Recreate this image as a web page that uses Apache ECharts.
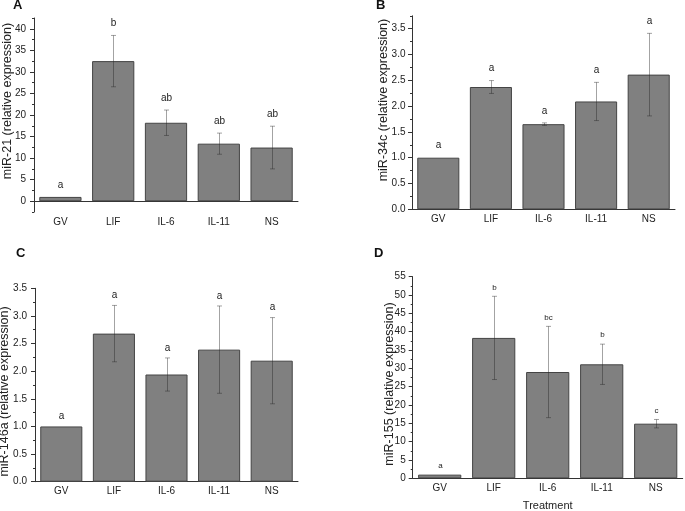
<!DOCTYPE html>
<html>
<head>
<meta charset="utf-8">
<script src="https://cdn.jsdelivr.net/npm/echarts@6/dist/echarts.min.js"></script>
<style>
html,body{margin:0;padding:0;background:#fff;}
#c{width:685px;height:511px;}
</style>
</head>
<body>
<div id="c"></div>
<script>
// ---- data ----
const categories = ['GV', 'LIF', 'IL-6', 'IL-11', 'NS'];

const mir21 = [1.0, 32.5, 18.2, 13.35, 12.45];
const mir21Sd = [0, 5.95, 2.95, 2.45, 4.95];
const mir21Sig = ['a', 'b', 'ab', 'ab', 'ab'];

const mir34c = [1.0, 2.37, 1.65, 2.09, 2.61];
const mir34cSd = [0, 0.125, 0.025, 0.37, 0.80];
const mir34cSig = ['a', 'a', 'a', 'a', 'a'];

const mir146a = [1.0, 2.68, 1.94, 2.39, 2.19];
const mir146aSd = [0, 0.51, 0.30, 0.79, 0.78];
const mir146aSig = ['a', 'a', 'a', 'a', 'a'];

const mir155 = [1.0, 38.3, 29.0, 31.1, 14.9];
const mir155Sd = [0, 11.35, 12.45, 5.5, 1.15];
const mir155Sig = ['a', 'b', 'bc', 'b', 'c'];

const ticksA = [0, 5, 10, 15, 20, 25, 30, 35, 40];
const minorA = [-2.5, 2.5, 7.5, 12.5, 17.5, 22.5, 27.5, 32.5, 37.5, 42.5];
const ticksB = [0, 0.5, 1.0, 1.5, 2.0, 2.5, 3.0, 3.5];
const minorB = [0.25, 0.75, 1.25, 1.75, 2.25, 2.75, 3.25, 3.75];
const ticksC = [0, 0.5, 1.0, 1.5, 2.0, 2.5, 3.0, 3.5];
const minorC = [0.25, 0.75, 1.25, 1.75, 2.25, 2.75, 3.25];
const ticksD = [0, 5, 10, 15, 20, 25, 30, 35, 40, 45, 50, 55];
const minorD = [2.5, 7.5, 12.5, 17.5, 22.5, 27.5, 32.5, 37.5, 42.5, 47.5, 52.5];

// ---- layout ----
const FONT = 'Liberation Sans, Arial, sans-serif';
const panels = [
  {letter: 'A', lx: 13, ly: 6, vals: mir21, sd: mir21Sd, sig: mir21Sig, ticks: ticksA, minor: minorA,
   min: -2.5, max: 42.5, dec: 0, name: 'miR-21 (relative expression)', lm: 8,
   grid: {left: 34, top: 18, width: 264, height: 194}, nameGap: 20, namePad: [0, 0, 0, 28], sigGap: 7, sigSize: 10},
  {letter: 'B', lx: 376, ly: 6, vals: mir34c, sd: mir34cSd, sig: mir34cSig, ticks: ticksB, minor: minorB,
   min: 0, max: 3.75, dec: 1, name: 'miR-34c (relative expression)', lm: 6.5,
   grid: {left: 412, top: 15.8, width: 263, height: 193.5}, nameGap: 21.5, namePad: [0, 0, 0, 25], sigGap: 7, sigSize: 10},
  {letter: 'C', lx: 16, ly: 254, vals: mir146a, sd: mir146aSd, sig: mir146aSig, ticks: ticksC, minor: minorC,
   min: 0, max: 3.5, dec: 1, name: 'miR-146a (relative expression)', lm: 8,
   grid: {left: 35, top: 288.3, width: 263, height: 193.4}, nameGap: 24.3, namePad: [0, 13, 0, 0], sigGap: 5, sigSize: 10},
  {letter: 'D', lx: 374, ly: 254, vals: mir155, sd: mir155Sd, sig: mir155Sig, ticks: ticksD, minor: minorD,
   min: 0, max: 55, dec: 0, name: 'miR-155 (relative expression)', lm: 7,
   grid: {left: 412.7, top: 276.7, width: 270, height: 201.6}, nameGap: 16.2, namePad: [0, 13, 0, 0], sigGap: 5, sigSize: 8,
   xName: 'Treatment'}
];

const grids = [], xAxes = [], yAxes = [], series = [], graphics = [];
const axisColor = '#333';
panels.forEach((p, i) => {
  grids.push(Object.assign({containLabel: false, outerBoundsMode: 'none'}, p.grid));
  xAxes.push({
    type: 'category', gridIndex: i, data: categories,
    axisLine: {lineStyle: {color: axisColor, width: 1}},
    axisTick: {alignWithLabel: true, length: 3, lineStyle: {color: axisColor}},
    axisLabel: {fontSize: 10, color: '#222', fontFamily: FONT, margin: 5},
    name: p.xName || '', nameLocation: 'middle', nameGap: 22, nameMoveOverlap: false,
    nameTextStyle: {fontSize: 11, color: '#222', fontFamily: FONT}
  });
  yAxes.push({
    type: 'value', gridIndex: i, min: p.min, max: p.max,
    axisLine: {show: true, lineStyle: {color: axisColor, width: 1}},
    axisTick: {show: true, length: 4, customValues: p.ticks, lineStyle: {color: axisColor}},
    axisLabel: {customValues: p.ticks, fontSize: 10, color: '#222', fontFamily: FONT, margin: p.lm,
      formatter: v => Number(v).toFixed(p.dec)},
    splitLine: {show: false},
    name: p.name, nameLocation: 'middle', nameRotate: 90, nameGap: p.nameGap, nameMoveOverlap: false,
    nameTextStyle: {fontSize: 12.5, color: '#222', fontFamily: FONT, padding: p.namePad}
  });
  yAxes.push({
    type: 'value', gridIndex: i, min: p.min, max: p.max, position: 'left',
    axisLine: {show: false},
    axisTick: {show: true, length: 2, customValues: p.minor, lineStyle: {color: axisColor}},
    axisLabel: {show: false},
    splitLine: {show: false}
  });
  series.push({
    type: 'bar', xAxisIndex: i, yAxisIndex: 2 * i, data: p.vals, barWidth: '80%',
    itemStyle: {color: '#808080', borderColor: '#444', borderWidth: 1},
    silent: true, animation: false
  });
  series.push({
    type: 'custom', xAxisIndex: i, yAxisIndex: 2 * i,
    data: p.vals.map((v, k) => [k, v]),
    encode: {x: 0, y: 1},
    animation: false, silent: true, z: 5,
    renderItem: (params, api) => {
      const k = params.dataIndex;
      const m = p.vals[k], s = p.sd[k];
      const top = api.coord([k, m + s]);
      const bot = api.coord([k, m - s]);
      const x = Math.round(top[0]) + 0.5;
      const children = [];
      const st = {stroke: 'rgba(35,35,35,0.42)', lineWidth: 1};
      if (s > 0) {
        children.push({type: 'line', shape: {x1: x, y1: top[1], x2: x, y2: bot[1]}, style: st});
        children.push({type: 'line', shape: {x1: x - 2.5, y1: top[1], x2: x + 2.5, y2: top[1]}, style: st});
        children.push({type: 'line', shape: {x1: x - 2.5, y1: bot[1], x2: x + 2.5, y2: bot[1]}, style: st});
      }
      children.push({type: 'text', x: x, y: top[1] - p.sigGap,
        style: {text: p.sig[k], align: 'center', verticalAlign: 'bottom', fontSize: p.sigSize,
          fontFamily: FONT, fill: '#222'}});
      return {type: 'group', children};
    }
  });
  graphics.push({type: 'text', left: p.lx, top: p.ly - 7,
    style: {text: p.letter, fontSize: 13, fontWeight: 'bold', fontFamily: FONT, fill: '#111'}});
});

const chart = echarts.init(document.getElementById('c'), null, {renderer: 'canvas'});
chart.setOption({
  animation: false,
  backgroundColor: '#fff',
  grid: grids, xAxis: xAxes, yAxis: yAxes, series: series, graphic: graphics
});
</script>
</body>
</html>
